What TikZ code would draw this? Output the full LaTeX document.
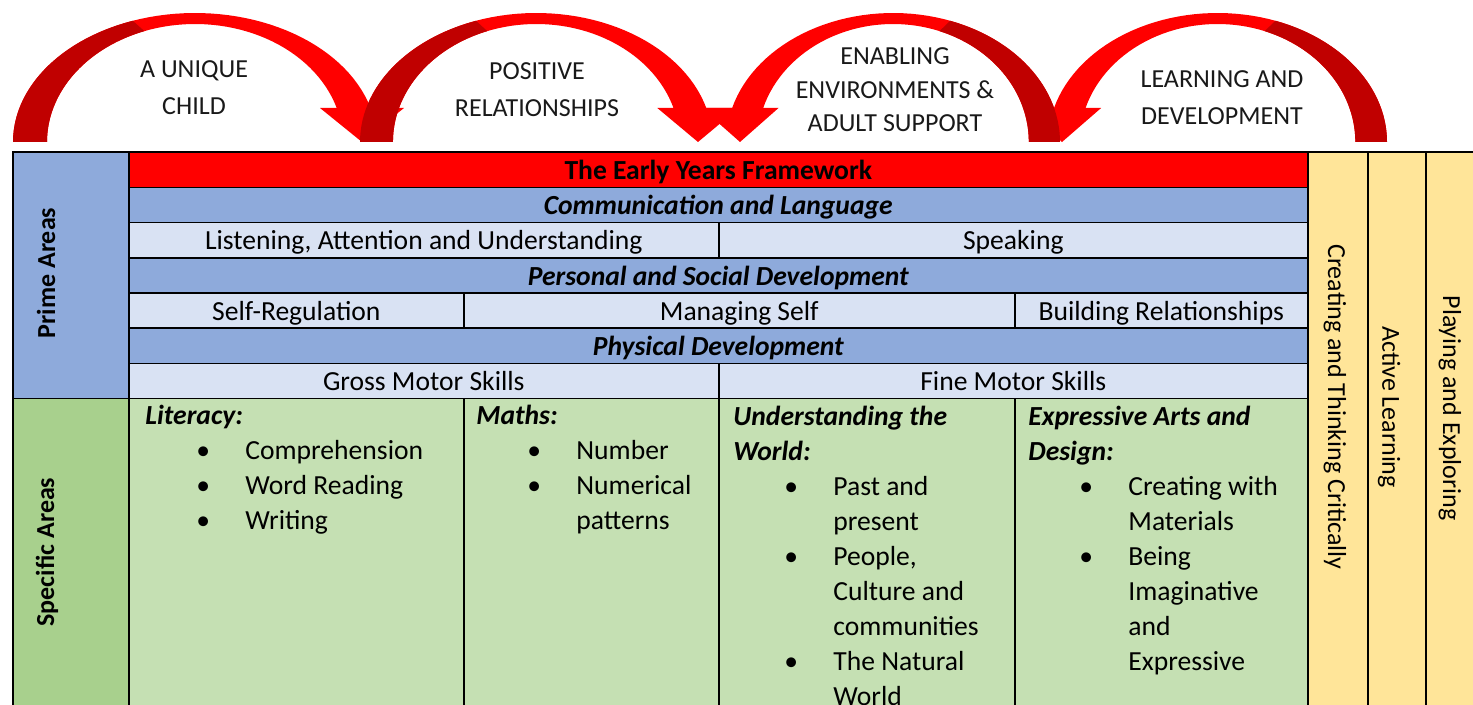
\documentclass[tikz,border=0pt]{standalone}
\usepackage{fontspec}
\setmainfont{Carlito}
\usepackage[]{xcolor}

\definecolor{fwred}{HTML}{FF0000}
\definecolor{fwdarkred}{HTML}{C00000}
\definecolor{primeblue}{HTML}{8EAADB}
\definecolor{paleblue}{HTML}{D9E2F3}
\definecolor{specgreen}{HTML}{A8D08D}
\definecolor{palegreen}{HTML}{C5E0B3}
\definecolor{charyellow}{HTML}{FFE599}

\newcommand{\bitem}{\hspace*{25.5pt}\makebox[24.5pt][l]{\textbullet}}
\newcommand{\bcont}{\hspace*{50pt}}

\begin{document}
\begin{tikzpicture}[
            x=0.5pt, y=-0.5pt,
            cell/.style={draw=black, line width=0.8pt, anchor=north west, inner sep=0pt, minimum height=17.6pt, text depth=0pt, font=\fontsize{13.8}{17.5}\selectfont},
            areahead/.style={cell, fill=primeblue, minimum width=589.5pt, font=\fontsize{13.8}{17.5}\selectfont\bfseries\itshape},
            subarea/.style={cell, fill=paleblue},
            specific/.style={cell, fill=palegreen, minimum height=165pt},
            charcol/.style={cell, fill=charyellow, minimum height=290pt},
            sidelabel/.style={inner sep=0pt, font=\fontsize{13}{17.5}\selectfont\bfseries, rotate=90},
            charlabel/.style={inner sep=0pt, font=\fontsize{13}{17.5}\selectfont, rotate=-90},
            listtext/.style={align=left, anchor=base west, inner sep=0pt, font=\fontsize{13.8}{17.5}\selectfont},
            arctext/.style={align=center, anchor=base, inner sep=0pt, text=black!90, font=\fontsize{13}{18.5}\selectfont}
        ]
            \clip (0,0) rectangle (1473,705);

            % curved arrows along the top
            \foreach \foot/\tip in {13/362, 360/698, 1387/1062, 1060/740} {
                \pgfmathsetmacro\adir{sign(\tip-\foot)}
                \pgfmathsetmacro\ak{abs(\tip-\foot)/349}
                \pgfmathsetmacro\acx{\foot+\adir*182*\ak}
                \pgfmathsetmacro\aro{182*\ak}
                \pgfmathsetmacro\ari{148*\ak}
                \pgfmathsetmacro\aw{42*\ak}
                \fill[fwred] plot[domain=180:15.28, samples=60] ({\acx+\adir*\aro*cos(\x)}, {142-129*sin(\x)})
                    -- ({\tip+\adir*\aw}, 108) -- (\tip, 142) -- ({\tip-\adir*\aw}, 108)
                    -- plot[domain=16.75:180, samples=60] ({\acx+\adir*\ari*cos(\x)}, {142-118*sin(\x)}) -- cycle;
                \fill[fwdarkred] plot[domain=180:110, samples=30] ({\acx+\adir*\aro*cos(\x)}, {142-129*sin(\x)})
                    -- plot[domain=110:180, samples=30] ({\acx+\adir*\ari*cos(\x)}, {142-118*sin(\x)}) -- cycle;
            }

            % multi-line nodes sit on the baseline of their last line
            \node[arctext] (unique) at (194,115) {A UNIQUE\\CHILD};
            \node[arctext] (positive) at (537,117) {POSITIVE\\RELATIONSHIPS};
            \node[arctext, font=\fontsize{13}{16.75}\selectfont] (enabling) at (895,132) {ENABLING\\ENVIRONMENTS \&\\ADULT SUPPORT};
            \node[arctext] (learning) at (1222,125) {LEARNING AND\\DEVELOPMENT};

            % left hand column
            \node[cell, fill=primeblue, minimum width=58pt, minimum height=123.2pt] (prime) at (12,151.5) {};
            \node[cell, fill=specgreen, minimum width=58pt, minimum height=165pt] (specificareas) at (12,397.9) {};
            \node[sidelabel] (primelbl) at (46,273) {Prime Areas};
            \node[sidelabel] (specificlbl) at (47,552) {Specific Areas};

            % prime areas
            \node[cell, fill=fwred, minimum width=589.5pt, font=\fontsize{13.8}{17.5}\selectfont\bfseries] (framework) at (128,151.5) {The Early Years Framework};
            \node[areahead] (commlang) at (128,186.7) {Communication and Language};
            \node[subarea, minimum width=295pt] (listening) at (128,221.9) {Listening, Attention and Understanding};
            \node[subarea, minimum width=294.5pt] (speaking) at (718,221.9) {Speaking};
            \node[areahead] (personal) at (128,257.1) {Personal and Social Development};
            \node[subarea, minimum width=167.5pt] (selfreg) at (128,292.3) {Self-Regulation};
            \node[subarea, minimum width=275.5pt] (managing) at (463,292.3) {Managing Self};
            \node[subarea, minimum width=146.5pt] (building) at (1014,292.3) {Building Relationships};
            \node[areahead] (physical) at (128,327.5) {Physical Development};
            \node[subarea, minimum width=295pt] (gross) at (128,362.7) {Gross Motor Skills};
            \node[subarea, minimum width=294.5pt] (fine) at (718,362.7) {Fine Motor Skills};

            % specific areas
            \node[specific, minimum width=167.5pt] (literacy) at (128,397.9) {};
            \node[specific, minimum width=127.5pt] (maths) at (463,397.9) {};
            \node[specific, minimum width=148pt] (world) at (718,397.9) {};
            \node[specific, minimum width=146.5pt] (arts) at (1014,397.9) {};

            \node[listtext] (literacylist) at (145,530) {\textbf{\textit{Literacy:}}\\\bitem Comprehension\\\bitem Word Reading\\\bitem Writing};
            \node[listtext] (mathslist) at (476,530) {\textbf{\textit{Maths:}}\\\bitem Number\\\bitem Numerical\\\bcont patterns};
            \node[listtext] (worldlist) at (733,705) {\textbf{\textit{Understanding the}}\\\textbf{\textit{World:}}\\\bitem Past and\\\bcont present\\\bitem People,\\\bcont Culture and\\\bcont communities\\\bitem The Natural\\\bcont World};
            \node[listtext] (artslist) at (1028,670) {\textbf{\textit{Expressive Arts and}}\\\textbf{\textit{Design:}}\\\bitem Creating with\\\bcont Materials\\\bitem Being\\\bcont Imaginative\\\bcont and\\\bcont Expressive};

            % characteristics of learning
            \node[charcol, minimum width=30pt] (creating) at (1307,151.5) {};
            \node[charcol, minimum width=29pt] (active) at (1367,151.5) {};
            \node[charcol, minimum width=30pt] (playing) at (1425,151.5) {};
            \node[charlabel] (creatinglbl) at (1335,407) {Creating and Thinking Critically};
            \node[charlabel] (activelbl) at (1389,407) {Active Learning};
            \node[charlabel] (playinglbl) at (1450,408) {Playing and Exploring};
        \end{tikzpicture}
\end{document}
